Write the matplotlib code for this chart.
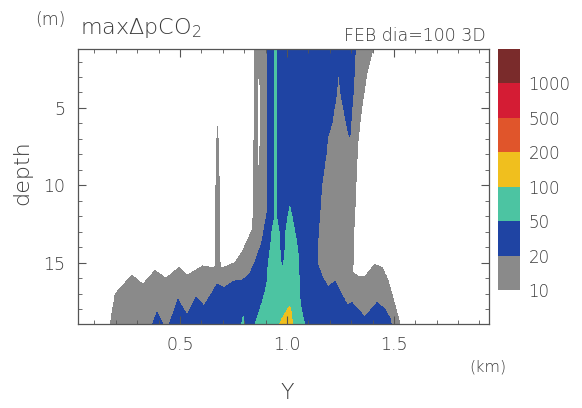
import numpy as np
import matplotlib
matplotlib.use("Agg")
import matplotlib.pyplot as plt
from matplotlib.ticker import MultipleLocator

plt.rcParams['font.family'] = ['DejaVu Sans']
plt.rcParams['font.weight'] = 'light'
plt.rcParams['mathtext.fontset'] = 'custom'
plt.rcParams['mathtext.rm'] = 'DejaVu Sans:light'

# contour levels of max delta pCO2 and their colours
levels = [10, 20, 50, 100, 200, 500, 1000, 2000]
level_colors = ['#8a8a8a', '#1f44a3', '#4cc4a2', '#f0bf1e', '#e0552b', '#d41c34', '#7a2b2b']
cbar_labels = ['10', '20', '50', '100', '200', '500', '1000']

# representative value inside each band
WHITE, GRAY, BLUE, TEAL, YELLOW = 0, 15, 35, 70, 150

# --- regions (depth in m, Y in km) ---
# main gray body
gray_d     = [1.0, 1.2, 2.7, 4.9, 7.1, 10.0, 13.0, 15.6, 19.0]
gray_left  = [0.850, 0.850, 0.849, 0.848, 0.846, 0.844, 0.846, 0.846, 0.846]
gray_right = [1.405, 1.402, 1.374, 1.350, 1.332, 1.322, 1.313, 1.308, 1.308]

# thin gray spike near Y=0.67
spike_d     = [6.2, 7.0, 10.0, 13.0, 15.0, 16.0]
spike_left  = [0.675, 0.673, 0.668, 0.666, 0.664, 0.660]
spike_right = [0.675, 0.678, 0.683, 0.685, 0.687, 0.690]

# gray near the bottom on the left: top of the region for each Y
gray_col_y   = [0.168, 0.175, 0.196, 0.210, 0.276, 0.327, 0.383, 0.435, 0.495, 0.533,
                0.607, 0.654, 0.710, 0.757, 0.794, 0.836, 0.850]
gray_col_top = [19.5, 18.9, 17.1, 16.8, 15.8, 16.4, 15.5, 16.0, 15.3, 15.8,
                15.2, 15.3, 15.25, 15.0, 14.2, 12.9, 10.7]

# gray bump near the bottom on the right
gray2_y   = [1.300, 1.308, 1.336, 1.364, 1.411, 1.444, 1.472, 1.500, 1.528, 1.540]
gray2_top = [15.6, 15.6, 15.9, 15.9, 15.1, 15.3, 16.1, 17.5, 18.9, 19.5]

# main blue column
blue_d     = [1.0, 3.8, 6.74, 11.0, 11.8, 13.7, 15.0, 19.0]
blue_left  = [0.912, 0.912, 0.912, 0.911, 0.907, 0.883, 0.850, 0.850]
blue_right = [1.320, 1.310, 1.294, 1.290, 1.290, 1.290, 1.290, 1.290]

# gray finger reaching into the blue from the upper right
finger_d     = [2.44, 4.0, 6.0, 6.74, 6.9, 8.0, 10.0, 12.0, 14.0, 15.0, 19.0]
finger_left  = [1.240, 1.232, 1.209, 1.193, 1.190, 1.182, 1.162, 1.152, 1.142, 1.140, 1.140]
finger_right = [1.240, 1.252, 1.279, 1.291, 1.296, 1.300, 1.300, 1.300, 1.300, 1.300, 1.300]

# blue fingers at the bottom, left and right
blue_col_y   = [0.360, 0.374, 0.393, 0.416, 0.430, 0.449, 0.491, 0.533, 0.575, 0.612,
                0.673, 0.710, 0.748, 0.794, 0.827, 0.850]
blue_col_top = [19.5, 18.9, 18.2, 18.9, 19.5, 19.0, 17.4, 18.4, 17.2, 17.8,
                16.4, 16.6, 16.2, 16.1, 15.7, 15.0]
blue2_y   = [1.140, 1.168, 1.192, 1.224, 1.280, 1.304, 1.364, 1.421, 1.458, 1.481, 1.495]
blue2_top = [15.0, 16.0, 16.6, 16.2, 17.7, 17.6, 18.5, 17.6, 18.0, 18.6, 19.5]

# teal: thin streak + left lobe, right prong, bottom body, small spot
teal1_d     = [1.0, 12.2, 13.0, 14.2, 15.0, 15.4]
teal1_left  = [0.940, 0.940, 0.930, 0.921, 0.913, 0.911]
teal1_right = [0.952, 0.953, 0.963, 0.967, 0.972, 0.977]
teal2_d     = [11.4, 12.0, 13.0, 14.2, 15.0, 15.4]
teal2_left  = [1.014, 1.005, 0.995, 0.991, 0.985, 0.977]
teal2_right = [1.014, 1.023, 1.037, 1.051, 1.055, 1.055]
teal3_d     = [15.3, 16.3, 17.4, 18.4, 19.0]
teal3_left  = [0.911, 0.907, 0.888, 0.864, 0.850]
teal3_right = [1.055, 1.057, 1.061, 1.072, 1.084]
teal4_d     = [18.5, 19.0]
teal4_left  = [0.795, 0.788]
teal4_right = [0.795, 0.802]

# yellow patch at the bottom
yellow_d     = [17.8, 18.2, 18.6, 19.0]
yellow_left  = [1.012, 0.995, 0.977, 0.965]
yellow_right = [1.012, 1.020, 1.023, 1.025]

# white gap inside the left gray strip, gray streak inside the blue
gap_d     = [2.7, 3.5, 5.0, 7.0, 8.5, 9.2]
gap_left  = [0.868, 0.862, 0.860, 0.861, 0.864, 0.868]
gap_right = [0.868, 0.874, 0.876, 0.875, 0.872, 0.868]
streak_d     = [4.3, 4.8, 5.3]
streak_left  = [1.164, 1.161, 1.164]
streak_right = [1.164, 1.167, 1.164]

# --- build the field on a fine grid ---
y = np.linspace(0.0, 2.0, 2001)
z = np.linspace(1.0, 19.0, 721)
Yg, Zg = np.meshgrid(y, z)
field = np.zeros_like(Yg)


def band(d, left, right, value):
    lo = np.interp(z, d, left)
    hi = np.interp(z, d, right)
    inside = (z >= d[0]) & (z <= d[-1])
    mask = inside[:, None] & (Yg >= lo[:, None]) & (Yg <= hi[:, None])
    field[mask] = value


def column(ys, tops, value):
    top = np.interp(y, ys, tops)
    inside = (y >= ys[0]) & (y <= ys[-1])
    mask = inside[None, :] & (Zg >= top[None, :])
    field[mask] = value


band(gray_d, gray_left, gray_right, GRAY)
band(spike_d, spike_left, spike_right, GRAY)
column(gray_col_y, gray_col_top, GRAY)
column(gray2_y, gray2_top, GRAY)
band(blue_d, blue_left, blue_right, BLUE)
band(finger_d, finger_left, finger_right, GRAY)
column(blue_col_y, blue_col_top, BLUE)
column(blue2_y, blue2_top, BLUE)
band(teal1_d, teal1_left, teal1_right, TEAL)
band(teal2_d, teal2_left, teal2_right, TEAL)
band(teal3_d, teal3_left, teal3_right, TEAL)
band(teal4_d, teal4_left, teal4_right, TEAL)
band(yellow_d, yellow_left, yellow_right, YELLOW)
band(gap_d, gap_left, gap_right, WHITE)
band(streak_d, streak_left, streak_right, GRAY)

# --- plot ---
fig = plt.figure(figsize=(5.82, 4.08), dpi=100)
ax = fig.add_axes([0.134, 0.206, 0.706, 0.674])
cs = ax.contourf(y, z, field, levels=levels, colors=level_colors)

ax.set_xlim(0.023, 1.944)
ax.set_ylim(18.94, 1.19)
ax.set_xticks([0.5, 1.0, 1.5])
ax.set_xticklabels(['0.5', '1.0', '1.5'])
ax.set_yticks([5, 10, 15])
ax.xaxis.set_minor_locator(MultipleLocator(0.1))
ax.yaxis.set_minor_locator(MultipleLocator(1))
ax.tick_params(which='both', direction='in', top=True, right=True, color='#555555',
               labelsize=12.5, labelcolor='#3a3a3a')
ax.tick_params(which='major', length=6, width=0.8)
ax.tick_params(which='minor', length=3, width=0.6)
ax.tick_params(axis='x', pad=9)
ax.tick_params(axis='y', pad=9)
for s in ax.spines.values():
    s.set_color('#555555')
    s.set_linewidth(0.9)

cax = fig.add_axes([0.856, 0.289, 0.038, 0.591])
cb = fig.colorbar(cs, cax=cax, ticks=levels[:-1])
cb.set_ticklabels(cbar_labels)
cb.outline.set_visible(False)
cb.ax.tick_params(length=0, labelsize=12, pad=6, labelcolor='#3a3a3a')

txt = '#3a3a3a'
fig.text(0.060, 0.951, '(m)', fontsize=12.5, color=txt, va='center')
fig.text(0.137, 0.917, r'max$\Delta$pCO$_\mathregular{2}$', fontsize=16, color=txt, va='baseline')
fig.text(0.834, 0.912, 'FEB dia=100 3D', fontsize=12.5, color=txt, ha='right', va='center')
fig.text(0.838, 0.101, '(km)', fontsize=11.5, color=txt, ha='center', va='center')
fig.text(0.493, 0.037, 'Y', fontsize=16, color=txt, ha='center', va='center')
fig.text(0.038, 0.578, 'depth', fontsize=16, color=txt, ha='center', va='center', rotation=90)

fig.savefig('out.png', dpi=100)
